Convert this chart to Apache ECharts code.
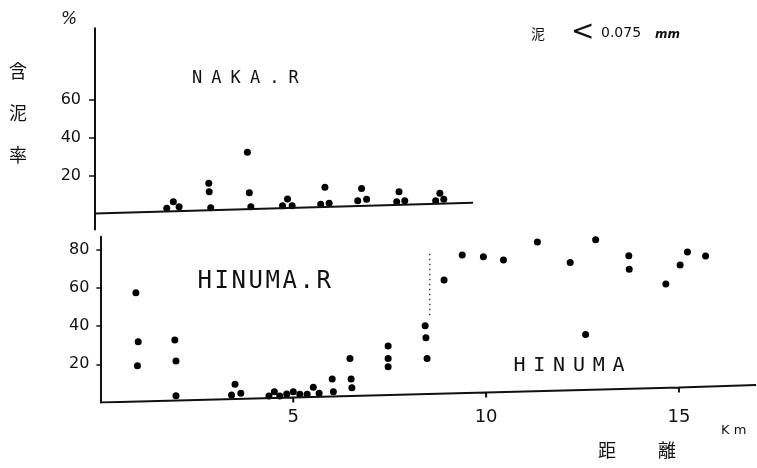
<!DOCTYPE html>
<html>
<head>
<meta charset="utf-8">
<script src="https://cdn.jsdelivr.net/npm/echarts@6/dist/echarts.min.js"></script>
<style>
  html, body { margin: 0; padding: 0; background: #fff; }
  #chart { width: 757px; height: 468px; }
</style>
</head>
<body>
<div id="chart"></div>
<script>
// Mud content (%) of bottom sediment against distance (km), NAKA river (upper panel)
// and HINUMA river / lake (lower panel).
const nakaKm  = [1.86, 2.03, 2.18, 2.95, 2.96, 3.00, 3.95, 4.00, 4.04, 4.86, 4.99, 5.11,
                 5.85, 5.96, 6.07, 6.81, 6.91, 7.04, 7.82, 7.88, 8.03, 8.83, 8.94, 9.04];
const nakaMud = [2.8, 6.2, 3.6, 16.0, 11.5, 3.1, 32.4, 11.0, 3.6, 4.1, 7.7, 4.1,
                 4.9, 13.9, 5.4, 6.8, 13.3, 7.5, 6.2, 11.5, 6.8, 6.8, 10.7, 7.5];

const hinumaKm  = [0.92, 0.98, 0.96, 1.93, 1.96, 1.96,
                   3.40, 3.49, 3.64,
                   4.37, 4.51, 4.65, 4.83, 5.00, 5.17, 5.36, 5.52, 5.67,
                   6.01, 6.04, 6.47, 6.50, 6.52,
                   7.46, 7.46, 7.46,
                   8.42, 8.44, 8.47,
                   8.91, 9.38, 9.93, 10.45, 11.33, 12.18, 12.58, 12.84, 13.70, 13.71,
                   14.66, 15.03, 15.22, 15.69];
const hinumaMud = [57.6, 31.9, 19.3, 32.8, 21.7, 3.5,
                   3.9, 9.5, 4.8,
                   3.4, 5.6, 3.4, 4.4, 5.6, 4.3, 4.3, 7.9, 4.8,
                   12.3, 5.6, 23.1, 12.3, 7.7,
                   29.6, 23.1, 18.7,
                   40.3, 34.0, 23.1,
                   64.3, 77.4, 76.5, 74.8, 84.2, 73.5, 35.7, 85.4, 77.0, 69.9,
                   62.2, 72.1, 79.0, 76.9];

// Hand-ruled base lines (km, %); the lower one carries the small ticks at 5, 10 and 15 km.
const nakaBaseKm    = [0, 9.8];
const nakaBaseMud   = [0, 5.7];
const hinumaBaseKm  = [0, 5, 5, 5, 10, 10, 10, 15, 15, 15, 17];
const hinumaBaseMud = [0, 2.6, 0, 2.6, 5.2, 2.6, 5.2, 7.8, 5.2, 7.8, 9.1];

// Dotted boundary between the river stations and the lake stations.
const boundaryKm  = [8.54, 8.54];
const boundaryMud = [45.8, 79.1];

// Tick labels
const nakaTicks   = [20, 40, 60];
const hinumaTicks = [20, 40, 60, 80];
const kmTicks     = [5, 10, 15];

const zip = (xs, ys) => xs.map((x, i) => [x, ys[i]]);

const INK = '#111';
const LATIN = 'DejaVu Sans';
const MONO = 'DejaVu Sans Mono';
const CJK = 'Noto Sans CJK JP';

// Evenly pitched lettering (rich text cells of fixed width)
function lettered(str, size, pitch) {
  return {
    text: str.split('').map(ch => '{c|' + ch + '}').join(''),
    rich: { c: { width: pitch, fontSize: size, fontFamily: MONO, fill: INK } }
  };
}

function label(x, y, text, font, extra) {
  return {
    type: 'text', x: x, y: y, silent: true,
    style: Object.assign({ text: text, font: font, fill: INK, textAlign: 'left', textVerticalAlign: 'middle' }, extra || {})
  };
}

const chart = echarts.init(document.getElementById('chart'), null, { renderer: 'canvas' });

const dotStyle = { color: '#000', opacity: 1 };

const option = {
  backgroundColor: '#fff',
  animation: false,
  grid: [
    { left: 95, top: 28.3, width: 380, height: 201.3 },
    { left: 100.4, top: 236.7, width: 655.7, height: 165.7 }
  ],
  xAxis: [
    { gridIndex: 0, type: 'value', min: 0, max: 9.85,
      axisLine: { show: false }, axisTick: { show: false }, axisLabel: { show: false }, splitLine: { show: false } },
    { gridIndex: 1, type: 'value', min: 0, max: 17,
      axisLine: { show: false }, axisTick: { show: false }, splitLine: { show: false },
      axisLabel: { customValues: kmTicks, margin: 6, color: INK, fontSize: 18, fontFamily: LATIN } }
  ],
  yAxis: [
    { gridIndex: 0, type: 'value', min: -8.5, max: 98,
      splitLine: { show: false },
      axisLine: { show: true, lineStyle: { color: INK, width: 2 } },
      axisTick: { show: true, customValues: nakaTicks, length: 6, lineStyle: { color: INK, width: 1.5 } },
      axisLabel: { customValues: nakaTicks, margin: 14, color: INK, fontSize: 16, fontFamily: LATIN } },
    { gridIndex: 1, type: 'value', min: 0, max: 87,
      splitLine: { show: false },
      axisLine: { show: true, lineStyle: { color: INK, width: 2 } },
      axisTick: { show: true, customValues: hinumaTicks, length: 4, lineStyle: { color: INK, width: 1.5 } },
      axisLabel: { customValues: hinumaTicks, margin: 11, color: INK, fontSize: 16, fontFamily: LATIN } }
  ],
  series: [
    { name: 'NAKA base', type: 'line', xAxisIndex: 0, yAxisIndex: 0, data: zip(nakaBaseKm, nakaBaseMud),
      symbol: 'none', silent: true, lineStyle: { color: INK, width: 2 } },
    { name: 'NAKA.R', type: 'scatter', xAxisIndex: 0, yAxisIndex: 0, data: zip(nakaKm, nakaMud),
      symbolSize: 7, itemStyle: dotStyle },
    { name: 'HINUMA base', type: 'line', xAxisIndex: 1, yAxisIndex: 1, data: zip(hinumaBaseKm, hinumaBaseMud),
      symbol: 'none', silent: true, lineStyle: { color: INK, width: 2 } },
    { name: 'boundary', type: 'line', xAxisIndex: 1, yAxisIndex: 1, data: zip(boundaryKm, boundaryMud),
      symbol: 'none', silent: true, lineStyle: { color: INK, width: 1.2, type: [1.5, 3.5] } },
    { name: 'HINUMA.R', type: 'scatter', xAxisIndex: 1, yAxisIndex: 1, data: zip(hinumaKm, hinumaMud),
      symbolSize: 7, itemStyle: dotStyle }
  ],
  graphic: [
    label(61, 20, '%', 'italic 17px ' + LATIN),
    { type: 'text', x: 18, y: 50, silent: true,
      style: { text: '含\n泥\n率', font: '18px "' + CJK + '"', fill: INK, lineHeight: 42,
               textAlign: 'center', textVerticalAlign: 'top' } },
    { type: 'text', x: 192, y: 79, silent: true,
      style: Object.assign({ textAlign: 'left', textVerticalAlign: 'middle' }, lettered('NAKA.R', 17, 19.3)) },
    { type: 'text', x: 197.5, y: 282, silent: true,
      style: Object.assign({ textAlign: 'left', textVerticalAlign: 'middle' }, lettered('HINUMA.R', 24, 17)) },
    { type: 'text', x: 513.5, y: 366, silent: true,
      style: Object.assign({ textAlign: 'left', textVerticalAlign: 'middle' }, lettered('HINUMA', 20, 19.8)) },
    label(531, 34, '泥', '14px "' + CJK + '"'),
    label(571, 33, '<', '28px ' + LATIN),
    label(601, 33, '0.075', '14px ' + LATIN),
    label(655, 35, 'mm', 'italic bold 12px ' + LATIN),
    label(721, 431, 'K m', '13px ' + LATIN),
    { type: 'text', x: 598, y: 450, silent: true,
      style: { text: '{a|距}{a|離}', textAlign: 'left', textVerticalAlign: 'middle',
               rich: { a: { width: 60, fontSize: 18, fontFamily: CJK, fill: INK } } } }
  ]
};

chart.setOption(option);
</script>
</body>
</html>
